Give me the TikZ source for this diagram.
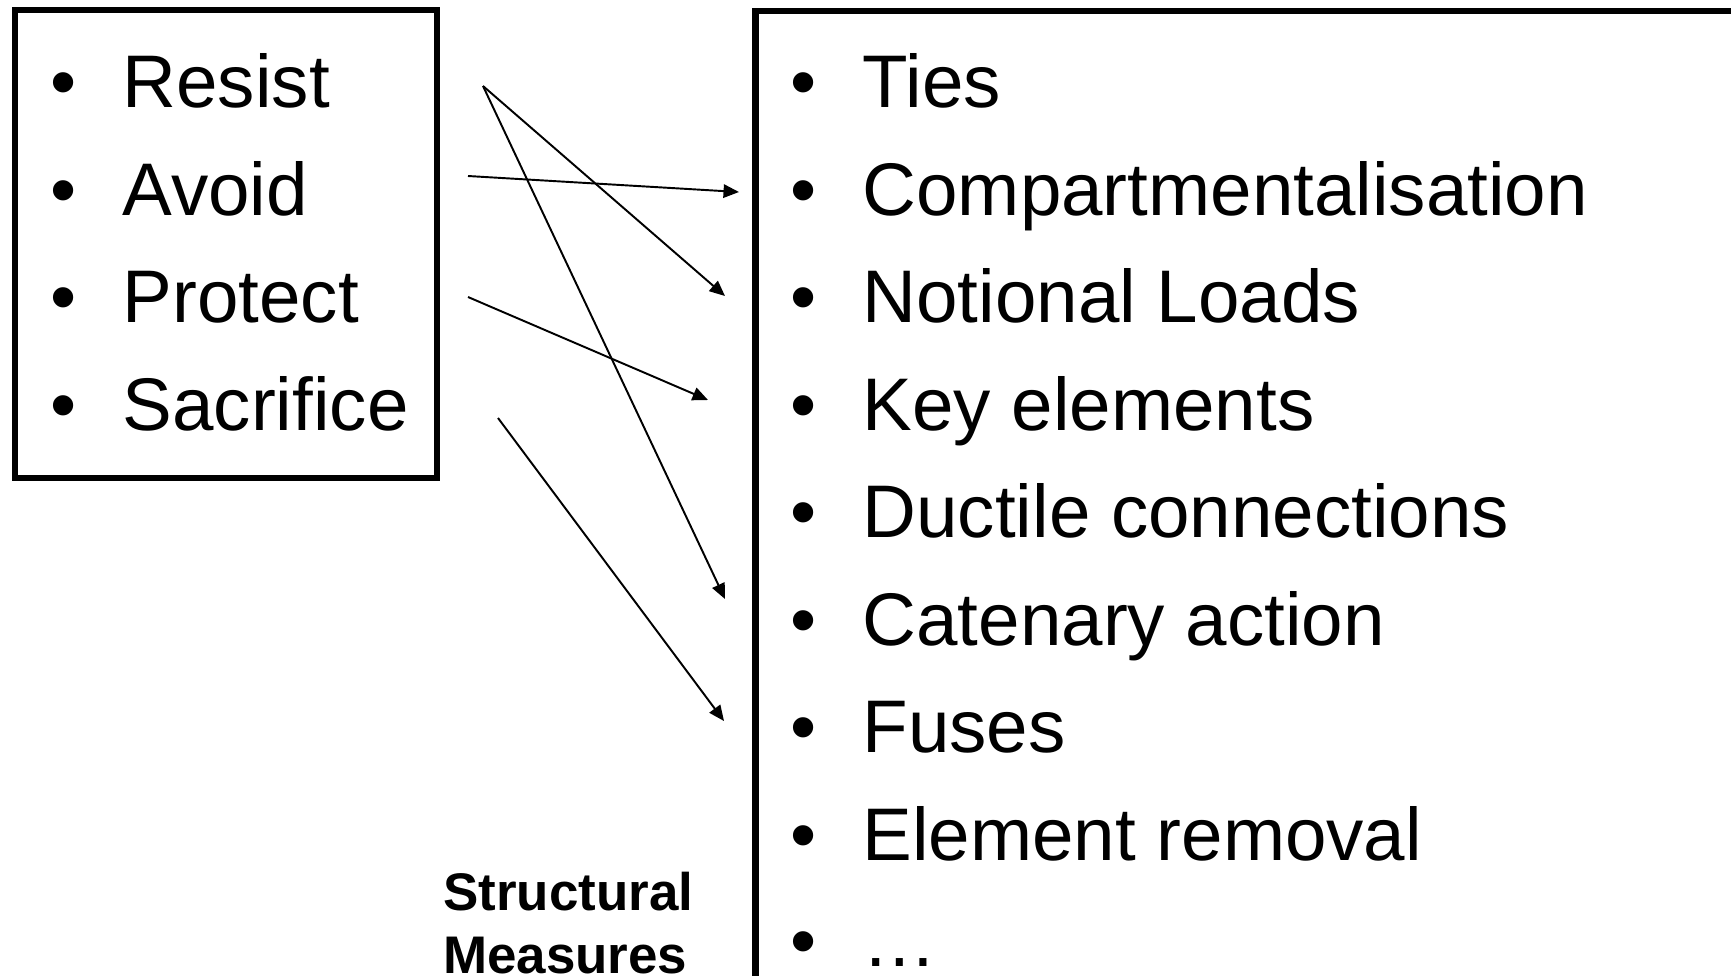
\documentclass[tikz,border=0pt]{standalone}
\usepackage{fontspec}
\setmainfont{Liberation Sans}
\usetikzlibrary{arrows.meta}

\begin{document}
\begin{tikzpicture}[x=0.01cm,y=-0.01cm,
  item/.style={anchor=base west,inner sep=0pt,font=\fontsize{21.2}{25}\selectfont},
  frame/.style={draw,line width=1.6pt},
  link/.style={-{Triangle[length=4.4pt,width=3.8pt]},line width=0.55pt}]
\clip (0,0) rectangle (1731,975);
\draw[frame] (15,10) rectangle (437,478);
\draw[frame,line width=1.9pt] (755.5,11) rectangle (1800,1100);
\node[item] (resist) at (122,107) {\llap{\textbullet\hspace{13pt}}Resist};
\node[item] (avoid) at (122,215) {\llap{\textbullet\hspace{13pt}}Avoid};
\node[item] (protect) at (122,322) {\llap{\textbullet\hspace{13pt}}Protect};
\node[item] (sacrifice) at (122,430) {\llap{\textbullet\hspace{13pt}}Sacrifice};
\node[item] (ties) at (862,107) {\llap{\textbullet\hspace{13pt}}Ties};
\node[item] (compart) at (862,215) {\llap{\textbullet\hspace{13pt}}Compartmentalisation};
\node[item] (notional) at (862,322) {\llap{\textbullet\hspace{13pt}}Notional Loads};
\node[item] (key) at (862,430) {\llap{\textbullet\hspace{13pt}}Key elements};
\node[item] (ductile) at (862,537) {\llap{\textbullet\hspace{13pt}}Ductile connections};
\node[item] (catenary) at (862,645) {\llap{\textbullet\hspace{13pt}}Catenary action};
\node[item] (fuses) at (862,752) {\llap{\textbullet\hspace{13pt}}Fuses};
\node[item] (removal) at (862,860) {\llap{\textbullet\hspace{13pt}}Element removal};
\node[item] (more) at (862,966) {\llap{\textbullet\hspace{13pt}}…};
\node[anchor=base west,inner sep=0pt,align=left,font=\bfseries\fontsize{15.05}{17.9}\selectfont] (measures) at (442.5,973) {Structural\\Measures};
\coordinate (resistout) at (483,86);
\coordinate (avoidout) at (468,176);
\coordinate (protectout) at (468,297);
\coordinate (sacrificeout) at (498,418);
\coordinate (compartin) at (739,192);
\coordinate (notionalin) at (725,296);
\coordinate (keyin) at (708,400);
\coordinate (catenaryin) at (725,599);
\coordinate (fusesin) at (724,721);
\draw[link] (resistout) -- (notionalin);
\draw[link] (resistout) -- (catenaryin);
\draw[link] (avoidout) -- (compartin);
\draw[link] (protectout) -- (keyin);
\draw[link] (sacrificeout) -- (fusesin);
\end{tikzpicture}
\end{document}
